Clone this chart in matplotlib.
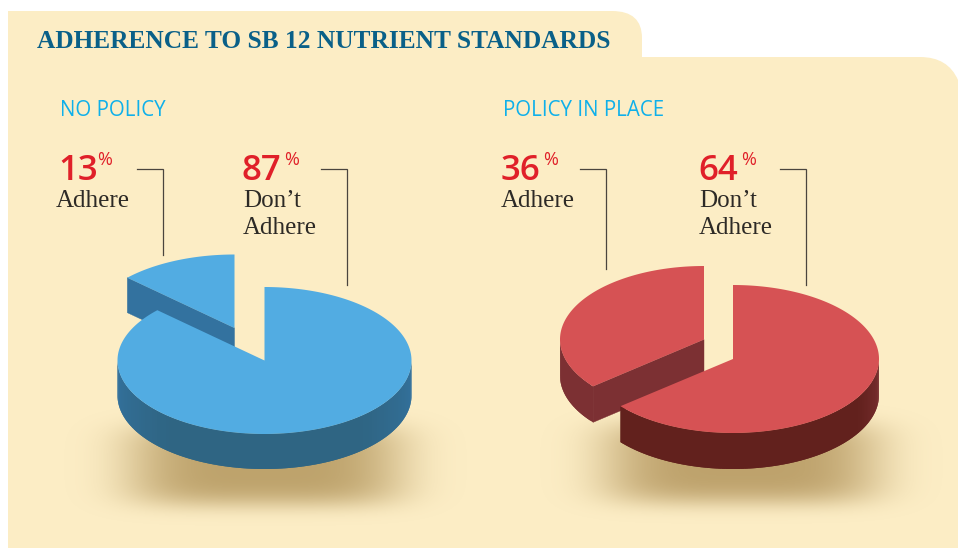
import numpy as np
import matplotlib
matplotlib.use("Agg")
import matplotlib.pyplot as plt
from matplotlib.patches import Polygon, PathPatch
from matplotlib.path import Path
from matplotlib.colors import to_rgb

# ---- data ----
title = "ADHERENCE TO SB 12 NUTRIENT STANDARDS"
groups = ["NO POLICY", "POLICY IN PLACE"]
adhere = [13, 36]
dont_adhere = [87, 64]
adhere_label = ["Adhere"]
dont_label = ["Don\u2019t", "Adhere"]

# ---- styles / layout ----
W, H = 958, 549
CREAM = "#fcedc5"
fig = plt.figure(figsize=(W / 100, H / 100), dpi=100, facecolor="white")
ax = fig.add_axes([0, 0, 1, 1])
ax.axis("off")

# panel
P = Path
verts = [(8, 11), (612, 11), (642, 11), (642, 38), (642, 57), (920, 57), (948, 57), (958, 80),
         (958, 548), (8, 548), (8, 11)]
codes = [P.MOVETO, P.LINETO, P.CURVE3, P.CURVE3, P.LINETO, P.LINETO, P.CURVE3, P.CURVE3,
         P.LINETO, P.LINETO, P.CLOSEPOLY]
ax.add_patch(PathPatch(Path(verts, codes), fc=CREAM, ec="none", zorder=0))


def pt(c, r, t, drop=0.0):
    t = np.radians(t)
    return np.column_stack([c[0] + r[0] * np.sin(t), c[1] - r[1] * np.cos(t) + drop])


def shadow(cx, cy, a, b):
    yy, xx = np.mgrid[385:549, max(cx - 215, 0):min(cx + 215, W)]
    d = ((np.abs(xx - cx) / a) ** 4 + (np.abs(yy - cy) / b) ** 4)
    alpha = 0.75 * np.exp(-d ** 1.1)
    img = np.zeros(xx.shape + (4,))
    img[..., :3] = to_rgb("#a98a4e")
    img[..., 3] = alpha
    ax.imshow(img, extent=(xx.min(), xx.max() + 1, yy.max() + 1, yy.min()), aspect="auto",
              zorder=1, interpolation="bilinear")


def rim(c, r, depth, t0, t1, col_end, col_mid, z, fade=45.0):
    lo, hi = max(t0, 90), min(t1, 270)
    if hi <= lo:
        return
    edges = np.arange(lo, hi + 1.5, 1.5)
    edges[-1] = hi
    ce, cm = np.array(to_rgb(col_end)), np.array(to_rgb(col_mid))
    # strips overlap the next one so no seams show
    for a, b in zip(edges[:-1], edges[1:]):
        ts = np.linspace(a, min(b + 1.5, hi), 4)
        upper = pt(c, r, ts)
        lower = pt(c, r, ts[::-1], depth)
        dist = min((a + b) / 2 - 90, 270 - (a + b) / 2)
        f = np.clip(dist / fade, 0, 1)
        col = ce * (1 - f) + cm * f
        ax.add_patch(Polygon(np.vstack([upper, lower]), closed=True, fc=col, ec="none", zorder=z))


def top(c, r, t0, t1, color, z):
    ts = np.linspace(t0, t1, 240)
    ax.add_patch(Polygon(np.vstack([[c], pt(c, r, ts)]), closed=True, fc=color, ec="none", zorder=z))


def cut_face(c, r, depth, t, color, z):
    e = pt(c, r, [t])[0]
    q = [e, c, (c[0], c[1] + depth), (e[0], e[1] + depth)]
    ax.add_patch(Polygon(q, closed=True, fc=color, ec=color, lw=0.3, zorder=z))


pies = [
    dict(main=(264.5, 360.5), small=(234.5, 328), r=(147, 73.5), small_r=(147, 73.5), depth=35,
         shadow=(265, 464),
         face="#52ace2", side="#33729f", front="#2f6583", small_front="#33729f", fade=50),
    dict(main=(733, 359), small=(704, 339.5), r=(146, 74), small_r=(144, 73.5), depth=36,
         shadow=(741, 462),
         face="#d65254", side="#7c3033", front="#62211d", small_front="#7c3033", fade=32),
]

for p, a in zip(pies, adhere):
    split = 360 - 360 * a / 100          # clock angle where "don't adhere" ends
    m, s, r, sr, d = p["main"], p["small"], p["r"], p["small_r"], p["depth"]
    shadow(p["shadow"][0], p["shadow"][1], 138, 42)
    # pulled-out "adhere" slice sits behind the main slice
    rim(s, sr, d, split, 360, p["small_front"], p["small_front"], 2)
    cut_face(s, sr, d, split, p["side"], 3)
    top(s, sr, split, 360, p["face"], 4)
    rim(m, r, d, 0, split, p["side"], p["front"], 5, p["fade"])
    top(m, r, 0, split, p["face"], 6)

# ---- text ----
SERIF = "Liberation Serif"
SANS = "Open Sans"
RED = "#e02029"
BLUE = "#0fb0ea"
INK = "#2d2a26"
ax.text(37, 48, title, family=SERIF, weight="bold", fontsize=18.3, color="#0a6088", va="baseline", zorder=10)

layout = [
    dict(head=60, n1=58, p1=98, l1=56, x1=137, v1=163, e1=255, n2=242, p2=285, l2=243, x2=321, v2=347, e2=285),
    dict(head=503, n1=501, p1=544, l1=501, x1=580, v1=606, e1=269, n2=698, p2=742, l2=699, x2=780, v2=806, e2=285),
]
for g, a, b, L in zip(groups, adhere, dont_adhere, layout):
    ax.text(L["head"], 116, g, family=SANS, weight=500, fontsize=14.8, color=BLUE, va="baseline", zorder=10)
    for val, nx, px, lx, lab in ((a, L["n1"], L["p1"], L["l1"], adhere_label),
                                 (b, L["n2"], L["p2"], L["l2"], dont_label)):
        ax.text(nx, 180, str(val), family=SANS, weight=600, fontsize=25, color=RED, va="baseline", zorder=10)
        ax.text(px - 1, 165, "%", family=SANS, fontsize=13, color=RED, va="baseline", zorder=10)
        for i, line in enumerate(lab):
            ax.text(lx, 207 + 27 * i, line, family=SERIF, fontsize=18, color=INK, va="baseline", zorder=10)
    for x0, xv, ye in ((L["x1"], L["v1"], L["e1"]), (L["x2"], L["v2"], L["e2"])):
        ax.plot([x0, xv, xv], [169, 169, ye], color="#4a453e", lw=0.9, solid_joinstyle="miter", zorder=9)

ax.set_xlim(0, W)
ax.set_ylim(H, 0)
fig.savefig("out.png", dpi=100, facecolor="white")
